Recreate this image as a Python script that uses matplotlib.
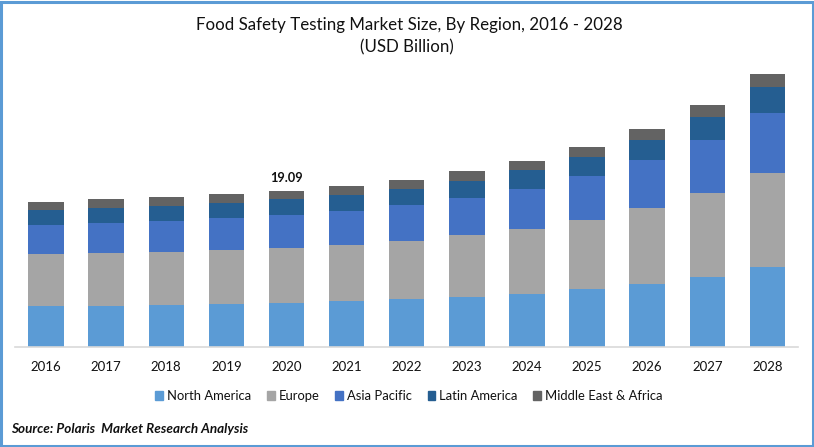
import matplotlib
matplotlib.use("Agg")
import matplotlib.pyplot as plt
from matplotlib.patches import Rectangle
import numpy as np

years = ["2016","2017","2018","2019","2020","2021","2022","2023","2024","2025","2026","2027","2028"]
north_america = [5.02,5.02,5.14,5.26,5.39,5.63,5.88,6.12,6.49,7.10,7.71,8.57,9.79]
europe = [6.36,6.49,6.49,6.61,6.73,6.85,7.10,7.59,7.96,8.45,9.30,10.28,11.51]
asia_pacific = [3.55,3.67,3.79,3.92,4.04,4.16,4.41,4.53,4.90,5.39,5.88,6.49,7.34]
latin_america = [1.84,1.84,1.84,1.84,1.96,1.96,1.96,2.08,2.33,2.33,2.45,2.82,3.18]
mea = [0.98,1.10,1.10,1.10,0.97,1.10,1.10,1.22,1.10,1.22,1.35,1.47,1.59]
series = [north_america, europe, asia_pacific, latin_america, mea]
names = ["North America","Europe","Asia Pacific","Latin America","Middle East & Africa"]
colors = ["#5B9BD5","#A5A5A5","#4472C4","#255E91","#636363"]
annotation = "19.09"

W, H = 814, 447
plt.rcParams['font.family'] = ['Lato', 'DejaVu Sans']
fig = plt.figure(figsize=(W/100, H/100), dpi=100, facecolor="white")
ax = fig.add_axes([15/W, 1-347/H, (798-15)/W, (347-40)/H])
ax.set_xlim(-0.516, 12.51)
ax.set_ylim(0, 307/8.17)
x = np.arange(len(years))
bottom = np.zeros(len(years))
for vals, c, n in zip(series, colors, names):
    ax.bar(x, vals, width=0.59, bottom=bottom, color=c, label=n, linewidth=0)
    bottom += np.array(vals)
ax.text(4, bottom[4]+0.85, annotation, ha="center", va="bottom", fontsize=9.2, fontweight="bold", color="#111111")
for s in ["top","left","right"]:
    ax.spines[s].set_visible(False)
ax.spines["bottom"].set_color("#D9D9D9")
ax.spines["bottom"].set_linewidth(1.2)
ax.set_yticks([])
ax.set_xticks(x)
ax.set_xticklabels(years, fontsize=9.5, color="#111111")
ax.tick_params(axis="x", length=0, pad=10)

fig.text(409/W, 1-25/H, "Food Safety Testing Market Size, By Region, 2016 - 2028", ha="center", va="center", fontsize=12.2, color="#111111")
fig.text(406.5/W, 1-47/H, "(USD Billion)", ha="center", va="center", fontsize=12.2, color="#111111")

handles = [Rectangle((0,0),1,1,color=c) for c in colors]
fig.legend(handles, names, loc="center", bbox_to_anchor=(409/W, 1-396/H), ncol=5, frameon=False, fontsize=9.4,
           handlelength=0.6, handleheight=0.6, handletextpad=0.3, columnspacing=1.2, labelcolor="#111111",
           borderpad=0, borderaxespad=0)
fig.text(11/W, 1-429/H, "Source: Polaris  Market Research Analysis", ha="left", va="center", fontsize=9.75, fontweight="bold", fontstyle="italic", color="#111111")

fig.add_artist(Rectangle((1.25/W, 1.5/H), (W-2.5)/W, (H-3)/H, transform=fig.transFigure, fill=False, edgecolor="#5B9BD5", linewidth=2.2))
fig.savefig("out.png", dpi=100)
